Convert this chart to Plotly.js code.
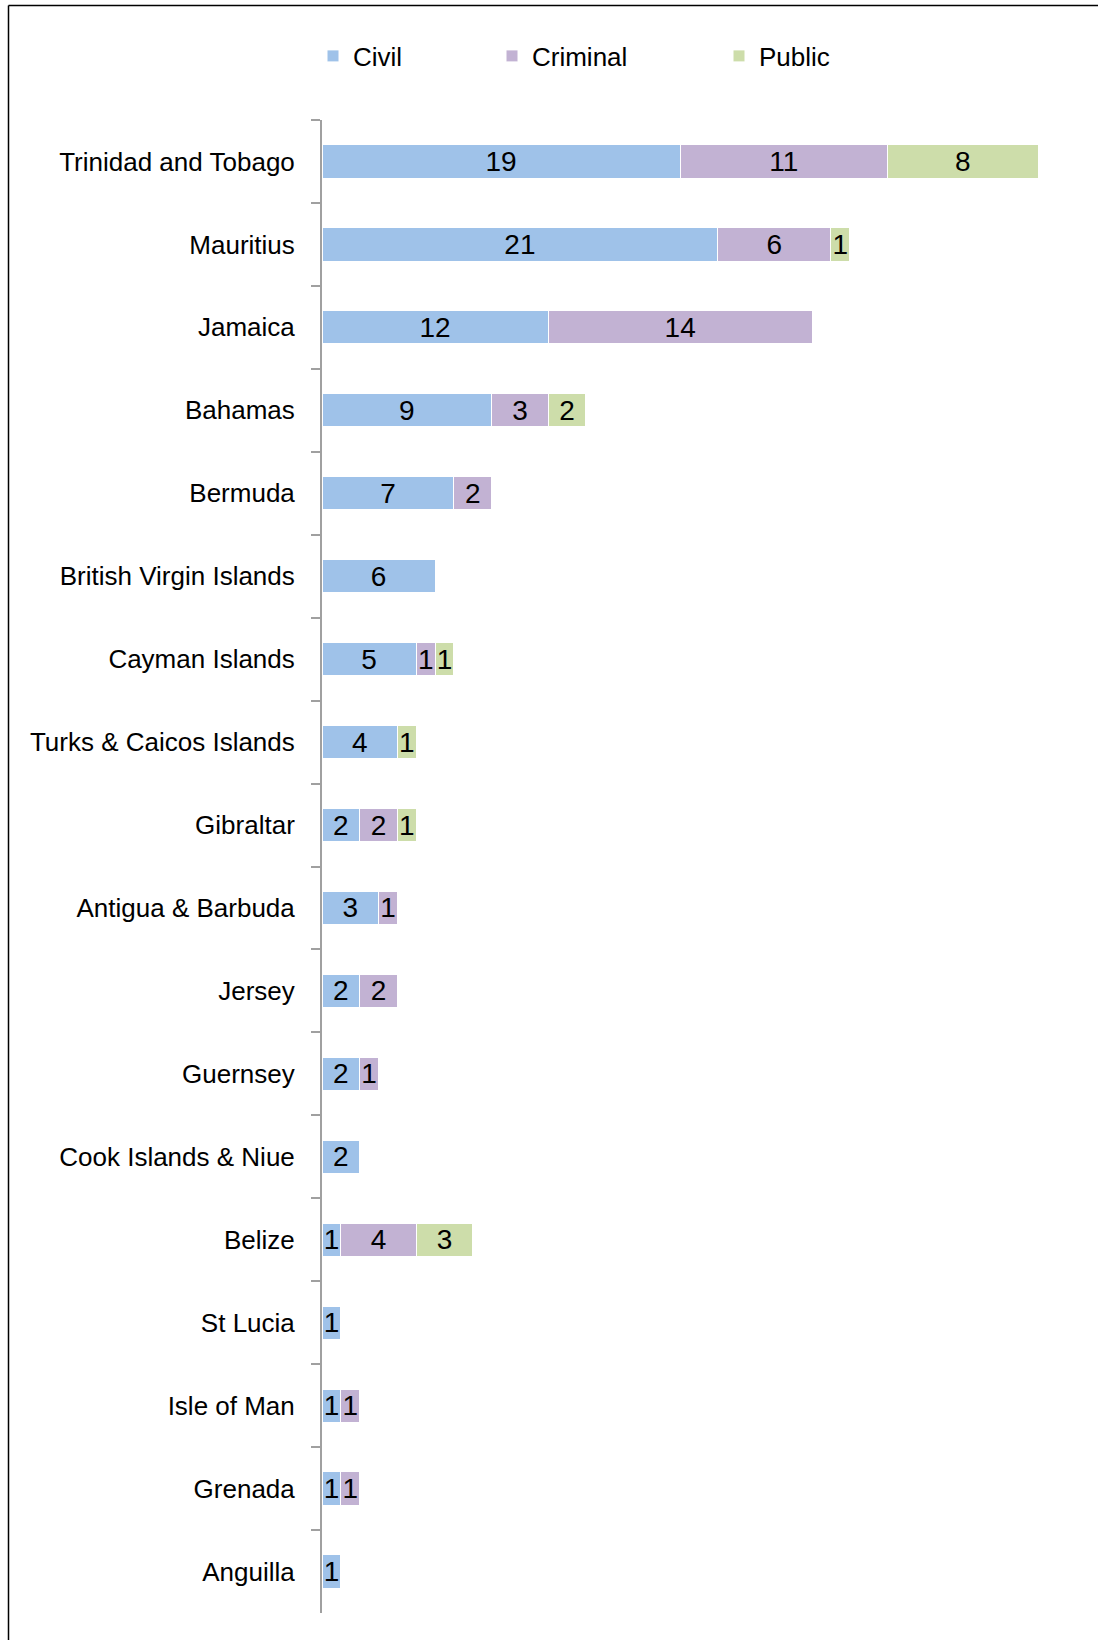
<!DOCTYPE html>
<html>
<head>
<meta charset="utf-8">
<script src="https://cdn.plot.ly/plotly-3.0.1.min.js"></script>
<style>
html,body{margin:0;padding:0;background:#fff;}
#chart{width:1098px;height:1640px;}
</style>
</head>
<body>
<div id="chart"></div>
<script>
const jurisdictions = [
  "Trinidad and Tobago","Mauritius","Jamaica","Bahamas","Bermuda",
  "British Virgin Islands","Cayman Islands","Turks & Caicos Islands","Gibraltar",
  "Antigua & Barbuda","Jersey","Guernsey","Cook Islands & Niue","Belize",
  "St Lucia","Isle of Man","Grenada","Anguilla"
];
const civil    = [19,21,12,9,7,6,5,4,2,3,2,2,2,1,1,1,1,1];
const criminal = [11,6,14,3,2,0,1,0,2,1,2,1,0,4,0,1,1,0];
const publicLaw= [8,1,0,2,0,0,1,1,1,0,0,0,0,3,0,0,0,0];

const FONT = "'Liberation Sans Narrow','Arial Narrow','Liberation Sans',Arial,sans-serif";

function mk(name, vals, color, legendId){
  return {
    type:'bar', orientation:'h', name:name,
    y: jurisdictions,
    x: vals.map(v => v === 0 ? null : v),
    text: vals.map(v => v === 0 ? '' : String(v)),
    textposition:'inside', insidetextanchor:'middle', constraintext:'none', textangle:0,
    textfont:{family:FONT, size:28, color:'#000'},
    marker:{color:color, line:{color:'#ffffff', width:1}},
    hoverinfo:'none',
    legend: legendId
  };
}

const data = [
  mk('Civil', civil, '#9FC2E9', 'legend'),
  mk('Criminal', criminal, '#C2B2D3', 'legend2'),
  mk('Public', publicLaw, '#CDDDAA', 'legend3')
];

const L = 322, W = 754, T = 120, H = 1493;
function px(x){ return (x - L)/W; }
function py(y){ return (T + H - y)/H; }

const legFont = {family:FONT, size:26, color:'#000'};
function leg(xpix){
  return {x:px(xpix), y:py(56), xanchor:'left', yanchor:'middle', orientation:'h',
          font:legFont, bgcolor:'rgba(0,0,0,0)', borderwidth:0, itemclick:false, itemdoubleclick:false};
}

const layout = {
  width:1098, height:1640,
  margin:{l:L, r:1098-L-W, t:T, b:1640-T-H, pad:0},
  paper_bgcolor:'#fff', plot_bgcolor:'#fff',
  barmode:'stack', bargap:0.6,
  font:{family:FONT, size:26, color:'#000'},
  showlegend:true,
  legend: leg(313),
  legend2: leg(492),
  legend3: leg(719),
  xaxis:{range:[0,40], visible:false, fixedrange:true},
  yaxis:{
    type:'category', autorange:'reversed',
    showline:true, linecolor:'#A0A0A0', linewidth:2,
    ticks:'outside', tickson:'boundaries', ticklen:9, tickcolor:'#A0A0A0', tickwidth:2,
    ticklabelstandoff:20,
    tickfont:{family:FONT, size:26, color:'#000'},
    showgrid:false, zeroline:false, fixedrange:true
  },
  shapes:[
    {type:'line', xref:'paper', yref:'paper', x0:px(8.5), x1:px(8.5), y0:py(5.5), y1:py(1700),
     line:{color:'#000', width:1.5}},
    {type:'line', xref:'paper', yref:'paper', x0:px(8.5), x1:px(1200), y0:py(5.5), y1:py(5.5),
     line:{color:'#000', width:1.5}}
  ]
};

Plotly.newPlot('chart', data, layout, {staticPlot:true, displayModeBar:false});
</script>
</body>
</html>
